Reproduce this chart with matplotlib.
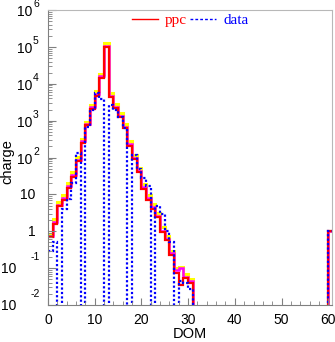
import numpy as np
import matplotlib
matplotlib.use("Agg")
import matplotlib.pyplot as plt
from matplotlib.lines import Line2D
from matplotlib.ticker import MultipleLocator, LogLocator, NullFormatter

# DOM bins 0..60 (bin k covers [k, k+1)), values for DOM 0..30, plus DOM 60
dom_edges = np.arange(0, 62)
ppc = [0.7, 1.6, 4.8, 7.2, 15, 30, 80, 250, 750, 2100, 4800, 14500, 100000,
       4400, 2200, 1250, 630, 210, 90, 40, 14, 7, 4, 2.4, 0.95, 0.57, 0.23,
       0.074, 0.035, 0.055, 0.04]
ppc_hi = [0.85, 2.1, 6.3, 9.5, 20, 40, 105, 320, 950, 2700, 6200, 19000, 130000,
          5600, 2800, 1650, 800, 290, 120, 52, 19, 9.5, 5.4, 3.2, 1.3, 0.75, 0.3,
          0.1, 0.11, 0.07, 0.05]
ppc_mid = [0.75, 1.75, 5.3, 7.8, 16.5, 33, 88, 275, 820, 2300, 5300, 16000, 108000,
           4800, 2400, 1380, 690, 230, 98, 43, 15.5, 7.8, 4.5, 2.6, 1.05, 0.62, 0.26,
           0.09, 0.1, 0.058, 0.045]
data = [0.3, 0.5, 0, 4, 7.4, 20, 130, 0, 670, 1900, 5500, 3800, 0,
        2600, 2000, 1250, 630, 0, 120, 48, 28, 17, 0, 5, 3, 1.0, 0.5,
        0, 0.045, 0.04, 0.028]
last_dom = 60
last_val = 1.0


def full(vals):
    h = np.zeros(len(dom_edges) - 1)
    h[:len(vals)] = vals
    h[last_dom] = last_val
    return np.where(h > 0, h, 1e-6)  # empty bins drop below the axis


plt.rcParams['font.family'] = 'Liberation Sans'
fig = plt.figure(figsize=(3.35, 3.42), dpi=100)
ax = fig.add_axes([0.1433, 0.108, 0.8477, 0.8626])

ax.stairs(full(ppc_hi), dom_edges, baseline=None, color='#ffff00', lw=2.2)
ax.stairs(full(ppc_mid), dom_edges, baseline=None, color='#ff00ff', lw=1.8)
ax.stairs(full(ppc), dom_edges, baseline=None, color='#ff0000', lw=1.6)
ax.stairs(full(data), dom_edges, baseline=None, color='#0000ff', lw=1.6,
          linestyle=(0, (1, 1)))

ax.set_yscale('log')
ax.set_ylim(1e-2, 1e6)
ax.set_xlim(0, 60.8)

ax.xaxis.set_major_locator(MultipleLocator(10))
ax.xaxis.set_minor_locator(MultipleLocator(2))
ax.yaxis.set_major_locator(LogLocator(base=10, numticks=20))
ax.yaxis.set_minor_locator(LogLocator(base=10, subs=np.arange(2, 10), numticks=20))
ax.yaxis.set_major_formatter(NullFormatter())
ax.yaxis.set_minor_formatter(NullFormatter())

ax.tick_params(axis='both', which='both', direction='in', colors='#808080',
               labelcolor='black', labelsize=10)
ax.tick_params(axis='y', which='major', length=6)
ax.tick_params(axis='y', which='minor', length=3)
ax.tick_params(axis='x', which='major', length=5, pad=6)
ax.tick_params(axis='x', which='minor', length=3)
for s in ['left', 'bottom']:
    ax.spines[s].set_color('#808080')
for s in ['top', 'right']:
    ax.spines[s].set_color('#b8b8b8')

# ROOT style y labels
for e in range(-2, 7):
    y = 10.0 ** e
    kw = dict(xycoords=('axes fraction', 'data'), textcoords='offset pixels',
              va='center', fontsize=10, annotation_clip=False)
    if e == 0:
        ax.annotate('1', xy=(0, y), xytext=(-12, -1), ha='right', **kw)
    elif e == 1:
        ax.annotate('10', xy=(0, y), xytext=(-13, -1), ha='right', **kw)
    elif e > 1:
        ax.annotate('10', xy=(0, y), xytext=(-16, -2), ha='right', **kw)
        kw['fontsize'] = 7.5
        ax.annotate(str(e), xy=(0, y), xytext=(-15, 6), ha='left', **kw)
    else:
        ax.annotate('10', xy=(0, y), xytext=(-47, -1), ha='left', **kw)
        kw['fontsize'] = 7.5
        ax.annotate(str(e), xy=(0, y), xytext=(-8, 11), ha='right', **kw)

ax.set_xlabel('DOM', fontsize=10.5)
ax.xaxis.set_label_coords(0.5, -0.075)
ax.set_ylabel('charge', fontsize=10.5)
ax.yaxis.set_label_coords(-0.118, 0.488)

handles = [Line2D([], [], color='#ff0000', lw=1),
           Line2D([], [], color='#0000ff', lw=1, linestyle=(0, (2, 1.5)))]
ax.legend(handles, ['ppc', 'data'], loc='center', bbox_to_anchor=(0.5, 0.966),
          ncol=2, frameon=False, prop={'family': 'Liberation Serif', 'size': 11},
          labelcolor=['#ff0000', '#0000ff'], handlelength=1.7, handletextpad=0.45,
          columnspacing=0.25, borderpad=0)

fig.savefig('out.png', dpi=100)
